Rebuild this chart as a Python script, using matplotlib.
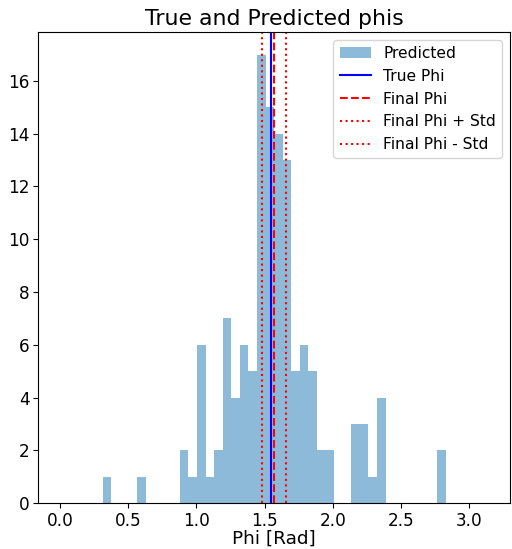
import numpy as np
import matplotlib
matplotlib.use("Agg")
import matplotlib.pyplot as plt

# histogram of predicted phis: 50 bins over [0, pi]
n_bins = 50
bin_index = [5, 9, 14, 15, 16, 17, 18, 19, 20, 21, 22, 23, 24, 25, 26,
             27, 28, 29, 30, 31, 34, 35, 36, 37, 44]
bin_count = [1, 1, 2, 1, 6, 1, 2, 7, 4, 6, 5, 17, 15, 14, 13,
             5, 6, 5, 2, 2, 3, 3, 1, 4, 2]

true_phi = 1.544
final_phi = 1.569
phi_std = 0.088

edges = np.linspace(0, np.pi, n_bins + 1)
centers = (edges[:-1] + edges[1:]) / 2
counts = np.zeros(n_bins)
counts[bin_index] = bin_count

fig = plt.figure(figsize=(5.12, 5.49), dpi=100)
ax = fig.add_axes([0.075, 0.0835, 0.921, 0.858])

ax.hist(centers, bins=edges, weights=counts, alpha=0.5, label='Predicted')
ax.axvline(true_phi, color='b', label='True Phi')
ax.axvline(final_phi, color='r', linestyle='--', label='Final Phi')
ax.axvline(final_phi + phi_std, color='r', linestyle=':', label='Final Phi + Std')
ax.axvline(final_phi - phi_std, color='r', linestyle=':', label='Final Phi - Std')

ax.set_title('True and Predicted phis', fontsize=15.8, pad=5)
ax.set_xlabel('Phi [Rad]', fontsize=13.3, labelpad=0)
ax.tick_params(labelsize=12.2, pad=3)
ax.legend(fontsize=11.2, loc='upper right')

fig.savefig('out.png', dpi=100)
